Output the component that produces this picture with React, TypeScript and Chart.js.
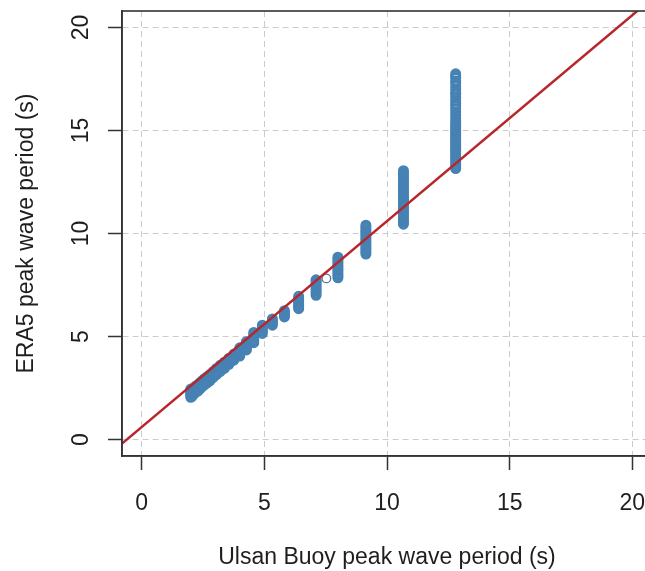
import { useEffect, useRef } from "react";
import { Chart, registerables } from "chart.js";

Chart.register(...registerables);

// Buoy peak-period bins (s)
const buoyBins = [
  2.0, 2.06, 2.13, 2.21, 2.29, 2.37, 2.46, 2.56, 2.67, 2.78, 2.91, 3.05, 3.2, 3.37,
  3.56, 3.76, 4.0, 4.27, 4.57, 4.92, 5.33, 5.82, 6.4, 7.11, 8.0, 9.14, 10.67, 12.8,
];

// ERA5 peak periods observed for each buoy bin (s)
const era5ByBin: number[][] = [
  [2.05, 2.15, 2.25, 2.35, 2.45],
  [2.1, 2.2, 2.3, 2.4],
  [2.2, 2.3, 2.4, 2.5],
  [2.3, 2.4, 2.5, 2.6],
  [2.35, 2.45, 2.55, 2.65],
  [2.45, 2.55, 2.65, 2.75],
  [2.55, 2.65, 2.75, 2.85],
  [2.65, 2.75, 2.85, 2.95],
  [2.75, 2.85, 2.95, 3.05],
  [2.85, 2.95, 3.05, 3.15],
  [3.0, 3.1, 3.2, 3.3],
  [3.15, 3.25, 3.35, 3.45],
  [3.3, 3.4, 3.5, 3.6],
  [3.45, 3.55, 3.65, 3.75],
  [3.65, 3.75, 3.85, 3.95],
  [3.85, 3.95, 4.05, 4.15],
  [4.05, 4.15, 4.25, 4.35, 4.45],
  [4.35, 4.45, 4.55, 4.65, 4.75],
  [4.7, 4.8, 4.9, 5.0, 5.1, 5.2],
  [5.15, 5.25, 5.35, 5.45, 5.55],
  [5.55, 5.65, 5.75, 5.85],
  [5.95, 6.05, 6.15, 6.25],
  [6.35, 6.45, 6.55, 6.65, 6.75, 6.85, 6.95],
  [7.0, 7.1, 7.2, 7.3, 7.4, 7.5, 7.6, 7.7, 7.75],
  [7.85, 7.95, 8.05, 8.15, 8.25, 8.35, 8.45, 8.55, 8.65, 8.75, 8.85],
  [9.0, 9.1, 9.2, 9.3, 9.4, 9.5, 9.6, 9.7, 9.8, 9.9, 10.0, 10.1, 10.2, 10.3, 10.4],
  [
    10.45, 10.55, 10.65, 10.75, 10.85, 10.95, 11.05, 11.15, 11.25, 11.35, 11.45, 11.55,
    11.65, 11.75, 11.85, 11.95, 12.05, 12.15, 12.25, 12.35, 12.45, 12.55, 12.65, 12.75,
    12.85, 12.95, 13.05,
  ],
  [
    13.15, 13.25, 13.35, 13.45, 13.55, 13.65, 13.75, 13.85, 13.95, 14.05, 14.15, 14.25,
    14.35, 14.45, 14.55, 14.65, 14.75, 14.85, 14.95, 15.05, 15.15, 15.25, 15.35, 15.45,
    15.6, 15.75, 15.9, 16.05, 16.2, 16.3, 16.45, 16.6, 16.75, 16.85, 17.0, 17.15, 17.3,
    17.4, 17.55, 17.65, 17.75,
  ],
];

// isolated observation
const extraBuoy = [7.53];
const extraEra5 = [7.82];

// fitted line
const fitIntercept = 0.6;
const fitSlope = 1.0;

// axes
const axisMin = -0.8;
const axisMax = 20.8;
const xTicks = [0, 5, 10, 15, 20];
const yTicks = [0, 5, 10, 15, 20];
const xTickLabels = ["0", "5", "10", "15", "20"];
const yTickLabels = ["0", "5", "10", "15", "20"];
const xTitle = "Ulsan Buoy peak wave period (s)";
const yTitle = "ERA5 peak wave period (s)";

const FONT = "23px 'Liberation Sans', Arial, sans-serif";
const TEXT = "#1e1e1e";

export default function App() {
  const ref = useRef<HTMLCanvasElement>(null);

  useEffect(() => {
    if (!ref.current) return;
    const points: { x: number; y: number }[] = [];
    buoyBins.forEach((x, i) => era5ByBin[i].forEach((y) => points.push({ x, y })));
    const extra = extraBuoy.map((x, i) => ({ x, y: extraEra5[i] }));

    const lineData = [
      { x: axisMin, y: fitIntercept + fitSlope * axisMin },
      { x: axisMax, y: fitIntercept + fitSlope * axisMax },
    ];

    const labelPlugin = {
      id: "rLabels",
      afterDraw(chart: any) {
        const { ctx, chartArea } = chart;
        const xs = chart.scales.x;
        const ys = chart.scales.y;
        ctx.save();
        ctx.strokeStyle = "#333";
        ctx.lineWidth = 1.6;
        ctx.strokeRect(chartArea.left, chartArea.top, chartArea.right - chartArea.left, chartArea.bottom - chartArea.top);
        ctx.fillStyle = TEXT;
        ctx.font = FONT;
        ctx.textAlign = "center";
        ctx.textBaseline = "alphabetic";
        xTicks.forEach((v, i) => {
          ctx.fillText(xTickLabels[i], xs.getPixelForValue(v), 510);
        });
        yTicks.forEach((v, i) => {
          ctx.save();
          ctx.translate(87.5, ys.getPixelForValue(v));
          ctx.rotate(-Math.PI / 2);
          ctx.fillText(yTickLabels[i], 0, 0);
          ctx.restore();
        });
        ctx.fillText(xTitle, (chartArea.left + chartArea.right) / 2, 564);
        ctx.save();
        ctx.translate(33, (chartArea.top + chartArea.bottom) / 2);
        ctx.rotate(-Math.PI / 2);
        ctx.fillText(yTitle, 0, 0);
        ctx.restore();
        ctx.restore();
      },
    };

    const gridOpts = {
      color: "#cccccc",
      lineWidth: 1,
      drawTicks: true,
      tickLength: 14,
      tickColor: "#333",
      tickWidth: 1.5,
      tickBorderDash: [],
    };
    const borderOpts = { display: true, color: "#333", width: 1.6, dash: [6, 4] };

    const chart = new Chart(ref.current, {
      type: "scatter",
      data: {
        datasets: [
          {
            type: "line",
            data: lineData,
            borderColor: "#b8262b",
            borderWidth: 2.5,
            pointRadius: 0,
            fill: false,
            clip: 0,
          } as any,
          {
            data: extra,
            pointStyle: "circle",
            pointRadius: 4.3,
            pointBorderWidth: 1.3,
            borderColor: "#5a7890",
            pointBorderColor: "#5a7890",
            backgroundColor: "rgba(0,0,0,0)",
            pointBackgroundColor: "rgba(0,0,0,0)",
          },
          {
            data: points,
            pointStyle: "circle",
            pointRadius: 4.2,
            pointBorderWidth: 2.6,
            borderWidth: 2.6,
            borderColor: "#4682B4",
            pointBorderColor: "#4682B4",
            backgroundColor: "rgba(0,0,0,0)",
            pointBackgroundColor: "rgba(0,0,0,0)",
          },
        ],
      },
      options: {
        responsive: false,
        animation: false,
        events: [],
        layout: { padding: { top: 11, right: 8, left: 0, bottom: 0 } },
        plugins: { legend: { display: false }, tooltip: { enabled: false } },
        scales: {
          x: {
            type: "linear",
            min: axisMin,
            max: axisMax,
            afterBuildTicks: (s: any) => {
              s.ticks = xTicks.map((v) => ({ value: v }));
            },
            afterFit: (s: any) => {
              s.height = 115;
            },
            ticks: { display: false },
            grid: gridOpts,
            border: borderOpts,
          },
          y: {
            type: "linear",
            min: axisMin,
            max: axisMax,
            afterBuildTicks: (s: any) => {
              s.ticks = yTicks.map((v) => ({ value: v }));
            },
            afterFit: (s: any) => {
              s.width = 122;
            },
            ticks: { display: false },
            grid: gridOpts,
            border: borderOpts,
          },
        },
      } as any,
      plugins: [labelPlugin],
    });
    return () => chart.destroy();
  }, []);

  return (
    <div
      style={{
        position: "absolute",
        left: 0,
        top: 0,
        width: 645,
        height: 571,
        overflow: "hidden",
        background: "#fff",
      }}
    >
      <canvas ref={ref} width={660} height={571} style={{ display: "block" }} />
    </div>
  );
}
